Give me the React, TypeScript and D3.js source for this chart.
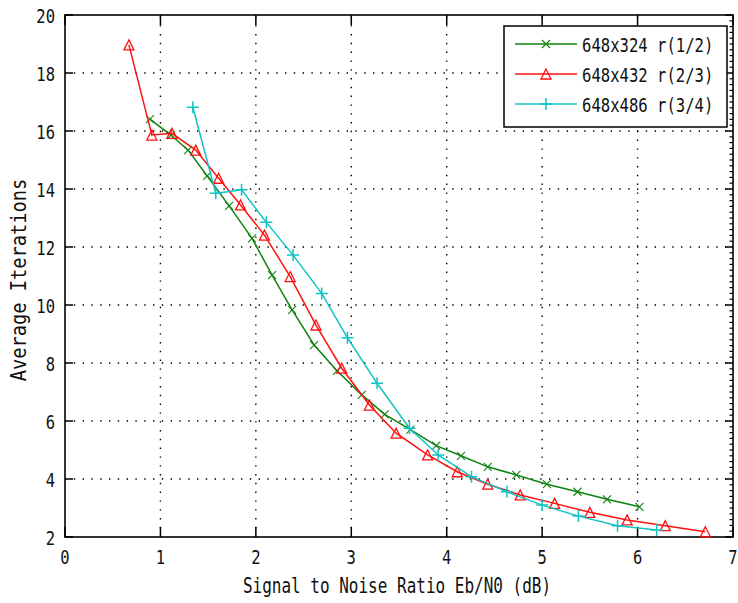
import { useEffect, useRef } from 'react';
import * as d3 from 'd3';

// series
const snr12 = [0.89, 1.11, 1.29, 1.49, 1.72, 1.96, 2.17, 2.38, 2.61, 2.85, 3.11, 3.35, 3.62, 3.89, 4.15, 4.43, 4.73, 5.05, 5.37, 5.68, 6.02];
const iter12 = [16.41, 15.86, 15.34, 14.45, 13.42, 12.3, 11.03, 9.83, 8.62, 7.73, 6.9, 6.23, 5.7, 5.15, 4.8, 4.42, 4.14, 3.82, 3.56, 3.3, 3.04];

const snr23 = [0.67, 0.91, 1.12, 1.37, 1.61, 1.84, 2.09, 2.36, 2.63, 2.9, 3.19, 3.47, 3.8, 4.11, 4.43, 4.77, 5.13, 5.5, 5.89, 6.29, 6.71];
const iter23 = [18.97, 15.86, 15.92, 15.34, 14.37, 13.45, 12.41, 10.98, 9.31, 7.82, 6.55, 5.58, 4.83, 4.25, 3.82, 3.45, 3.16, 2.85, 2.59, 2.39, 2.18];

const snr34 = [1.34, 1.58, 1.85, 2.11, 2.39, 2.69, 2.96, 3.27, 3.61, 3.91, 4.26, 4.63, 5.0, 5.38, 5.79, 6.2];
const iter34 = [16.82, 13.85, 13.97, 12.85, 11.72, 10.4, 8.87, 7.3, 5.75, 4.83, 4.08, 3.56, 3.1, 2.72, 2.39, 2.24];

const seriesNames = ['648x324 r(1/2)', '648x432 r(2/3)', '648x486 r(3/4)'];
const seriesColors = ['#0f820f', '#ff1010', '#10c4c4'];
const seriesMarkers = ['x', 'tri', 'plus'];

const xTicks = [0, 1, 2, 3, 4, 5, 6, 7];
const yTicks = [2, 4, 6, 8, 10, 12, 14, 16, 18, 20];

const W = 738, H = 603;
const FONT = '"DejaVu Sans Mono", monospace';
const SY = 1.3; // glyphs in the picture are tall and narrow

export default function App() {
  const svgRef = useRef(null);

  useEffect(() => {
    const svg = d3.select(svgRef.current);
    svg.selectAll('*').remove();

    const left = 65, right = 733, top = 15, bottom = 537;
    const x = d3.scaleLinear().domain([0, 7]).range([left, right]);
    const y = d3.scaleLinear().domain([2, 20]).range([bottom, top]);

    svg.append('rect').attr('width', W).attr('height', H).attr('fill', '#fff');

    // grid
    const grid = svg.append('g')
      .attr('stroke', '#000')
      .attr('stroke-width', 1.4)
      .attr('stroke-dasharray', '1.4 7.4');
    grid.selectAll('line.v')
      .data(xTicks.slice(1, -1))
      .join('line')
      .attr('x1', d => x(d)).attr('x2', d => x(d))
      .attr('y1', bottom).attr('y2', top);
    grid.selectAll('line.h')
      .data(yTicks.slice(1, -1))
      .join('line')
      .attr('class', 'h')
      .attr('x1', left).attr('x2', right)
      .attr('y1', d => y(d)).attr('y2', d => y(d));

    // ticks
    const ticks = svg.append('g').attr('stroke', '#000').attr('stroke-width', 1.5);
    xTicks.forEach(t => {
      ticks.append('line').attr('x1', x(t)).attr('x2', x(t)).attr('y1', bottom).attr('y2', bottom - 10);
      ticks.append('line').attr('x1', x(t)).attr('x2', x(t)).attr('y1', top).attr('y2', top + 10);
    });
    yTicks.forEach(t => {
      ticks.append('line').attr('x1', left).attr('x2', left + 8).attr('y1', y(t)).attr('y2', y(t));
    });
    d3.range(0, 91).forEach(i => {
      const v = 2 + i * 0.2;
      const major = i % 10 === 0;
      ticks.append('line')
        .attr('x1', right).attr('x2', right - (major ? 8 : 3.5))
        .attr('y1', y(v)).attr('y2', y(v))
        .attr('stroke-width', major ? 1.5 : 1.2);
    });

    // axes box
    svg.append('rect')
      .attr('x', left).attr('y', top)
      .attr('width', right - left).attr('height', bottom - top)
      .attr('fill', 'none').attr('stroke', '#000').attr('stroke-width', 1.6);

    const label = (tx, ty, txt, anchor, size) =>
      svg.append('text')
        .attr('transform', `translate(${tx},${ty}) scale(1,${SY})`)
        .attr('text-anchor', anchor)
        .style('font-family', FONT)
        .style('font-size', `${size}px`)
        .attr('fill', '#111')
        .text(txt);

    xTicks.forEach(t => label(x(t), bottom + 27, String(t), 'middle', 15.5));
    yTicks.forEach(t => label(left - 10, y(t) + 7.5, String(t), 'end', 15.5));

    label(397, 593, 'Signal to Noise Ratio Eb/N0 (dB)', 'middle', 16);
    svg.append('text')
      .attr('transform', `translate(26,280) rotate(-90) scale(1.17,${SY})`)
      .attr('text-anchor', 'middle')
      .style('font-family', FONT)
      .style('font-size', '16px')
      .attr('fill', '#111')
      .text('Average Iterations');

    const drawMarker = (g, kind, cx, cy, color) => {
      if (kind === 'x') {
        const s = 4;
        g.append('path')
          .attr('d', `M${cx - s},${cy - s}L${cx + s},${cy + s}M${cx - s},${cy + s}L${cx + s},${cy - s}`)
          .attr('stroke', color).attr('stroke-width', 1.1).attr('fill', 'none');
      } else if (kind === 'tri') {
        const s = 5;
        g.append('path')
          .attr('d', `M${cx},${cy - s}L${cx + s},${cy + s}L${cx - s},${cy + s}Z`)
          .attr('stroke', color).attr('stroke-width', 1.3).attr('fill', 'none');
      } else {
        const s = 6;
        g.append('path')
          .attr('d', `M${cx - s},${cy}L${cx + s},${cy}M${cx},${cy - s}L${cx},${cy + s}`)
          .attr('stroke', color).attr('stroke-width', 1.5).attr('fill', 'none');
      }
    };

    const series = [
      [snr12, iter12],
      [snr23, iter23],
      [snr34, iter34],
    ];
    const line = d3.line().x(d => x(d[0])).y(d => y(d[1]));

    series.forEach(([xs, ys], i) => {
      const pts = xs.map((v, j) => [v, ys[j]]);
      const g = svg.append('g');
      g.append('path')
        .attr('d', line(pts))
        .attr('fill', 'none')
        .attr('stroke', seriesColors[i])
        .attr('stroke-width', 1.5);
      pts.forEach(p => drawMarker(g, seriesMarkers[i], x(p[0]), y(p[1]), seriesColors[i]));
    });

    // legend
    const lg = svg.append('g');
    lg.append('rect')
      .attr('x', 504).attr('y', 26).attr('width', 223).attr('height', 101)
      .attr('fill', '#fff').attr('stroke', '#000').attr('stroke-width', 1.5);
    seriesNames.forEach((name, i) => {
      const ry = 44 + i * 30;
      lg.append('line')
        .attr('x1', 515).attr('x2', 577).attr('y1', ry).attr('y2', ry)
        .attr('stroke', seriesColors[i]).attr('stroke-width', 1.5);
      drawMarker(lg, seriesMarkers[i], 546, ry, seriesColors[i]);
      lg.append('text')
        .attr('transform', `translate(582,${ry + 7.5}) scale(1,${SY})`)
        .style('font-family', FONT)
        .style('font-size', '15.6px')
        .attr('fill', '#111')
        .text(name);
    });
  }, []);

  return (
    <svg ref={svgRef} width={W} height={H}
      style={{ position: 'absolute', left: 0, top: 0, display: 'block' }} />
  );
}
